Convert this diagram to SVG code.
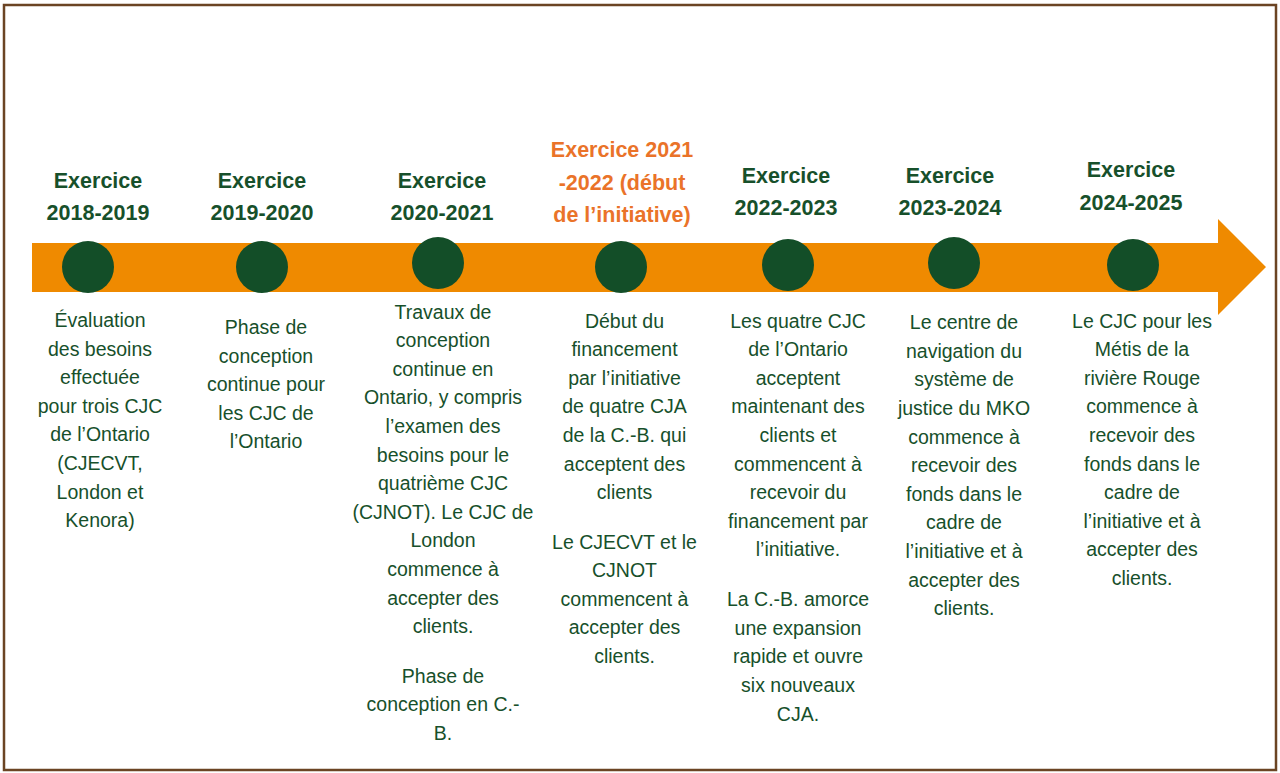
<svg xmlns="http://www.w3.org/2000/svg" width="1280" height="773" viewBox="0 0 1280 773">
<style>
.t{font-family:"Liberation Sans",Arial,sans-serif;font-weight:bold;font-size:21.5px;fill:#17502B;text-anchor:middle}
.o{fill:#EA7329}
.b{font-family:"Liberation Sans",Arial,sans-serif;font-size:19.5px;fill:#17502B;text-anchor:middle}
.dot{fill:#134E28}
</style>
<rect x="4" y="5" width="1272" height="765" fill="#FFFFFF" stroke="#6B4423" stroke-width="2.5"/>
<g id="connectors">
<polygon points="32,243 1218,243 1218,219 1266,267 1218,315 1218,292 32,292" fill="#EF8A00"/>
</g>
<g id="node-2018">
<circle class="dot" cx="88" cy="267" r="26"/>
<text class="t" x="98" y="187.7">Exercice</text>
<text class="t" x="98" y="219.5">2018-2019</text>
<text class="b" x="100" y="327">Évaluation</text>
<text class="b" x="100" y="355.6">des besoins</text>
<text class="b" x="100" y="384.2">effectuée</text>
<text class="b" x="100" y="412.8">pour trois CJC</text>
<text class="b" x="100" y="441.4">de l’Ontario</text>
<text class="b" x="100" y="470">(CJECVT,</text>
<text class="b" x="100" y="498.6">London et</text>
<text class="b" x="100" y="527.2">Kenora)</text>
</g>
<g id="node-2019">
<circle class="dot" cx="262" cy="267" r="26"/>
<text class="t" x="262" y="187.7">Exercice</text>
<text class="t" x="262" y="219.5">2019-2020</text>
<text class="b" x="266" y="334">Phase de</text>
<text class="b" x="266" y="362.6">conception</text>
<text class="b" x="266" y="391.2">continue pour</text>
<text class="b" x="266" y="419.8">les CJC de</text>
<text class="b" x="266" y="448.4">l’Ontario</text>
</g>
<g id="node-2020">
<circle class="dot" cx="438" cy="263" r="26"/>
<text class="t" x="442" y="187.7">Exercice</text>
<text class="t" x="442" y="219.5">2020-2021</text>
<text class="b" x="443" y="318.5">Travaux de</text>
<text class="b" x="443" y="347.1">conception</text>
<text class="b" x="443" y="375.7">continue en</text>
<text class="b" x="443" y="404.3">Ontario, y compris</text>
<text class="b" x="443" y="432.9">l’examen des</text>
<text class="b" x="443" y="461.5">besoins pour le</text>
<text class="b" x="443" y="490.1">quatrième CJC</text>
<text class="b" x="443" y="518.7">(CJNOT). Le CJC de</text>
<text class="b" x="443" y="547.3">London</text>
<text class="b" x="443" y="575.9">commence à</text>
<text class="b" x="443" y="604.5">accepter des</text>
<text class="b" x="443" y="633.1">clients.</text>
<text class="b" x="443" y="682.5">Phase de</text>
<text class="b" x="443" y="711.1">conception en C.-</text>
<text class="b" x="443" y="739.7">B.</text>
</g>
<g id="node-2021">
<circle class="dot" cx="621" cy="267" r="26"/>
<text class="t o" x="622" y="157">Exercice 2021</text>
<text class="t o" x="622" y="189.5">-2022 (début</text>
<text class="t o" x="622" y="221.7">de l’initiative)</text>
<text class="b" x="624.5" y="327.5">Début du</text>
<text class="b" x="624.5" y="356.1">financement</text>
<text class="b" x="624.5" y="384.7">par l’initiative</text>
<text class="b" x="624.5" y="413.3">de quatre CJA</text>
<text class="b" x="624.5" y="441.9">de la C.-B. qui</text>
<text class="b" x="624.5" y="470.5">acceptent des</text>
<text class="b" x="624.5" y="499.1">clients</text>
<text class="b" x="624.5" y="548.5">Le CJECVT et le</text>
<text class="b" x="624.5" y="577.1">CJNOT</text>
<text class="b" x="624.5" y="605.7">commencent à</text>
<text class="b" x="624.5" y="634.3">accepter des</text>
<text class="b" x="624.5" y="662.9">clients.</text>
</g>
<g id="node-2022">
<circle class="dot" cx="788" cy="265" r="26"/>
<text class="t" x="786" y="182.7">Exercice</text>
<text class="t" x="786" y="215">2022-2023</text>
<text class="b" x="798" y="327.5">Les quatre CJC</text>
<text class="b" x="798" y="356.1">de l’Ontario</text>
<text class="b" x="798" y="384.7">acceptent</text>
<text class="b" x="798" y="413.3">maintenant des</text>
<text class="b" x="798" y="441.9">clients et</text>
<text class="b" x="798" y="470.5">commencent à</text>
<text class="b" x="798" y="499.1">recevoir du</text>
<text class="b" x="798" y="527.7">financement par</text>
<text class="b" x="798" y="556.3">l’initiative.</text>
<text class="b" x="798" y="606.1">La C.-B. amorce</text>
<text class="b" x="798" y="634.7">une expansion</text>
<text class="b" x="798" y="663.3">rapide et ouvre</text>
<text class="b" x="798" y="691.9">six nouveaux</text>
<text class="b" x="798" y="720.5">CJA.</text>
</g>
<g id="node-2023">
<circle class="dot" cx="954" cy="263" r="26"/>
<text class="t" x="950" y="182.7">Exercice</text>
<text class="t" x="950" y="214.5">2023-2024</text>
<text class="b" x="964" y="329.1">Le centre de</text>
<text class="b" x="964" y="357.7">navigation du</text>
<text class="b" x="964" y="386.3">système de</text>
<text class="b" x="964" y="414.9">justice du MKO</text>
<text class="b" x="964" y="443.5">commence à</text>
<text class="b" x="964" y="472.1">recevoir des</text>
<text class="b" x="964" y="500.7">fonds dans le</text>
<text class="b" x="964" y="529.3">cadre de</text>
<text class="b" x="964" y="557.9">l’initiative et à</text>
<text class="b" x="964" y="586.5">accepter des</text>
<text class="b" x="964" y="615.1">clients.</text>
</g>
<g id="node-2024">
<circle class="dot" cx="1133" cy="265" r="26"/>
<text class="t" x="1131" y="177">Exercice</text>
<text class="t" x="1131" y="209.5">2024-2025</text>
<text class="b" x="1142" y="327.5">Le CJC pour les</text>
<text class="b" x="1142" y="356.1">Métis de la</text>
<text class="b" x="1142" y="384.7">rivière Rouge</text>
<text class="b" x="1142" y="413.3">commence à</text>
<text class="b" x="1142" y="441.9">recevoir des</text>
<text class="b" x="1142" y="470.5">fonds dans le</text>
<text class="b" x="1142" y="499.1">cadre de</text>
<text class="b" x="1142" y="527.7">l’initiative et à</text>
<text class="b" x="1142" y="556.3">accepter des</text>
<text class="b" x="1142" y="584.9">clients.</text>
</g>
</svg>
